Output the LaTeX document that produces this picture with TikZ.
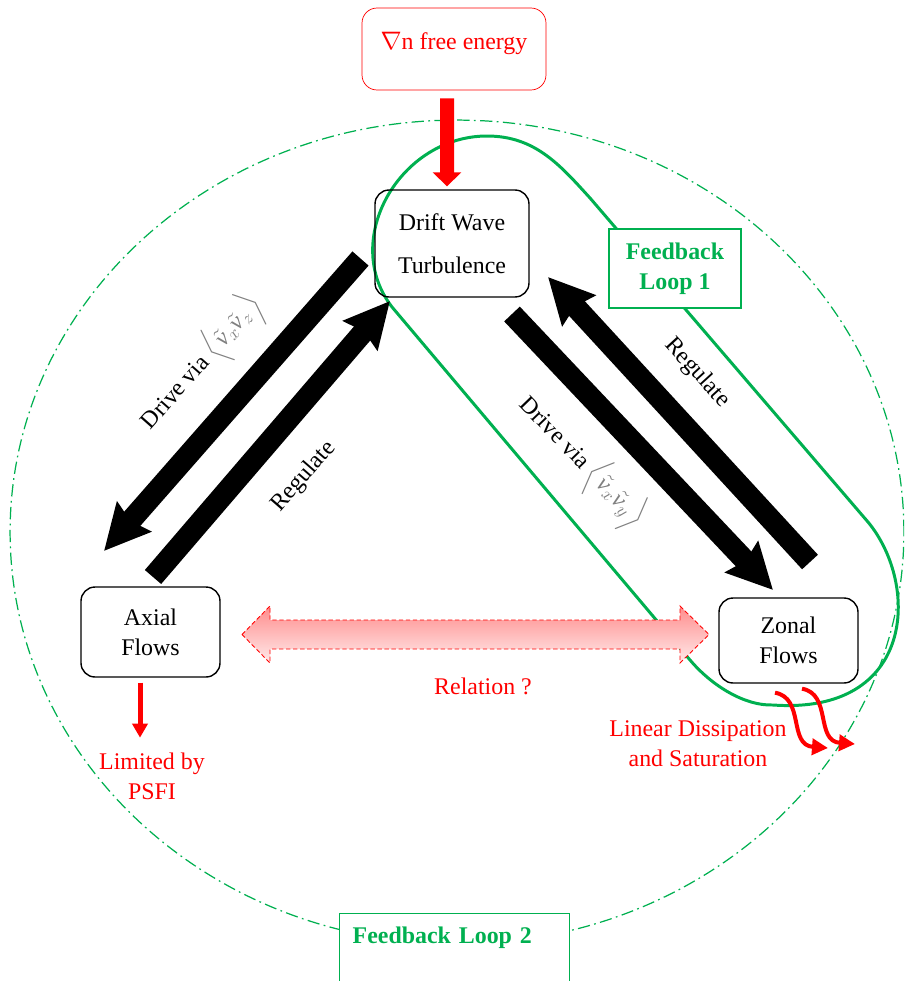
\documentclass[tikz,border=0pt]{standalone}
\usepackage{amsmath}
\usepackage{fontspec}
\setmainfont{Liberation Serif}
\usetikzlibrary{arrows.meta}
\definecolor{loopgreen}{RGB}{0, 176, 80}

\begin{document}
\begin{tikzpicture}[x=0.02cm, y=-0.02cm,
  every node/.style={font=\fontsize{13.6}{17}\selectfont},
  flowbox/.style={draw, line width=0.8pt, rounded corners=0.28cm, align=center, minimum width=2.78cm},
  loopbox/.style={draw=loopgreen, line width=0.8pt, fill=white, text=loopgreen, align=center,
    font=\fontsize{13.6}{17}\selectfont\bfseries},
  fatarrow/.style={line width=0.43cm, -{Stealth[length=0.9cm, width=0.88cm, inset=0.1cm]}},
  wavyarrow/.style={red, line width=0.08cm, -{Triangle[length=0.32cm, width=0.32cm]}},
  redlabel/.style={text=red, align=center}]

  \clip (0,0) rectangle (904,981);

  %Feedback loops
  \draw[loopgreen, line width=0.7pt, dash pattern=on 7pt off 2.5pt on 1pt off 2.5pt]
   (457,532) ellipse [x radius=8.94cm, y radius=8.24cm];
  \draw[loopgreen, line width=1.7pt]
   (392,307) .. controls (340,240) and (400,136) .. (487,136)
   .. controls (535,136) and (560,165) .. (590,198) -- (868,522)
   .. controls (920,585) and (915,715) .. (773,705)
   .. controls (745,706) and (712,686) .. (690,660) -- cycle;
  \draw
   (675,268.5) node[loopbox, minimum width=2.64cm, minimum height=1.58cm](fl1) {Feedback\\Loop 1}
   (339,913) node[loopbox, anchor=north west, text width=4.08cm, align=left, inner sep=0.26cm,
     text depth=1.4cm](fl2) {Feedback Loop 2};

  \draw
   (454,49) node[draw=red, rounded corners=0.3cm, text=red, minimum width=3.68cm, minimum height=1.64cm,
     text depth=0.32cm](energy) {$\nabla$n free energy}
   (452,243.5) node[flowbox, minimum width=3.08cm, minimum height=2.14cm](dwt) {Drift Wave\\[7.5pt]Turbulence}
   (150.5,632) node[flowbox, minimum height=1.8cm](axial) {Axial\\Flows}
   (788.5,640.5) node[flowbox, minimum height=1.7cm](zonal) {Zonal\\Flows};

  %Relation between the flows
  \draw[red, line width=0.5pt, dash pattern=on 2.5pt off 1.5pt, top color=red!45, bottom color=red!8]
   (242,634.5) -- (270,606) -- (270,620) -- (680,620) -- (680,606) -- (709,634.5)
   -- (680,663) -- (680,649) -- (270,649) -- (270,663) -- cycle;

  \coordinate (dl1) at (360.5,258.5);
  \coordinate (dl2) at (104,551);
  \coordinate (rl1) at (153,577);
  \coordinate (rl2) at (390,301);
  \coordinate (dr1) at (512,314);
  \coordinate (dr2) at (773,590);
  \coordinate (rr1) at (810,562);
  \coordinate (rr2) at (548,277);
  \draw[fatarrow] (dl1) -- (dl2);
  \draw[fatarrow] (rl1) -- (rl2);
  \draw[fatarrow] (dr1) -- (dr2);
  \draw[fatarrow] (rr1) -- (rr2);

  \draw[red, line width=0.28cm, -{Triangle[length=0.28cm, width=0.56cm]}]
   ([xshift=-0.14cm, yshift=-0.16cm]energy.south) -- ([xshift=-0.1cm, yshift=0.06cm]dwt.north);

  \node[rotate=48.5] (drvax) at (202,363) {Drive via \textcolor{gray}{$\Big\langle\tilde{\mathit{v}}_x\tilde{\mathit{v}}_z\Big\rangle$}};
  \node[rotate=49] (regax) at (304,477) {Regulate};
  \node[rotate=-46] (drvzf) at (582,462) {Drive via \textcolor{gray}{$\Big\langle\tilde{\mathit{v}}_x\tilde{\mathit{v}}_y\Big\rangle$}};
  \node[rotate=-47.5] (regzf) at (697,373) {Regulate};

  \node[redlabel] (rel) at (483,686) {Relation ?};
  \node[redlabel] (psfi) at (152,776) {Limited by\\PSFI};
  \node[redlabel] (diss) at (698,744) {Linear Dissipation\\and Saturation};

  \draw[red, line width=0.1cm, -{Triangle[length=0.28cm, width=0.3cm]}]
   ([xshift=-0.21cm, yshift=-0.1cm]axial.south) -- ++(0,55);
  \draw[wavyarrow] ([xshift=-0.27cm, yshift=-0.18cm]zonal.south) .. controls (805,698) and (788,745) .. (828,748);
  \draw[wavyarrow] ([xshift=0.27cm, yshift=-0.1cm]zonal.south) .. controls (832,694) and (815,741) .. (855,744);
\end{tikzpicture}
\end{document}
